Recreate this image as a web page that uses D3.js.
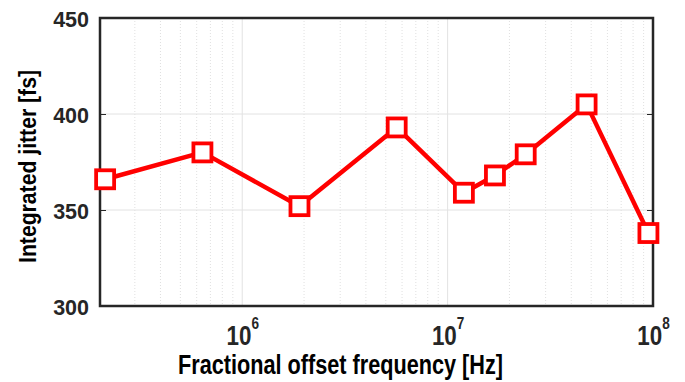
<!DOCTYPE html>
<html><head><meta charset="utf-8">
<script src="https://cdn.jsdelivr.net/npm/d3@7"></script>
<style>body{margin:0;background:#fff;}svg{display:block;font-family:"Liberation Sans",Arial,sans-serif;}</style>
</head><body>
<svg id="c" width="685" height="382"></svg>
<script>
const freqs = [2.15e5, 6.4e5, 1.9e6, 5.65e6, 1.2e7, 1.7e7, 2.4e7, 4.75e7, 9.5e7];
const jitter = [366, 380, 352, 393, 359, 368, 379, 405, 338];
const yTicks = [300, 350, 400, 450];
const xTicks = [1e6, 1e7, 1e8];
const xLabel = "Fractional offset frequency [Hz]";
const yLabel = "Integrated jitter [fs]";

const svg = d3.select("#c");
const L = 100, R = 653, T = 18, B = 306;
const x = d3.scaleLog().domain([2.03e5, 1e8]).range([L, R]);
const y = d3.scaleLinear().domain([300, 450]).range([B, T]);

// minor grid
const minor = [];
for (let e = 5; e < 8; e++) for (let m = 2; m <= 9; m++) { const v = m * Math.pow(10, e); if (v > 2.03e5 && v < 1e8) minor.push(v); }
svg.append("g").selectAll("line").data(minor).join("line")
  .attr("x1", d => x(d)).attr("x2", d => x(d)).attr("y1", T).attr("y2", B)
  .attr("stroke", "#d8d8d8").attr("stroke-width", 0.8).attr("stroke-dasharray", "1,2");
// major grid
svg.append("g").selectAll("line").data(xTicks.slice(0, 2)).join("line")
  .attr("x1", d => x(d)).attr("x2", d => x(d)).attr("y1", T).attr("y2", B)
  .attr("stroke", "#e2e2e2").attr("stroke-width", 1);
svg.append("g").selectAll("line").data(yTicks.slice(1, 3)).join("line")
  .attr("x1", L).attr("x2", R).attr("y1", d => y(d)).attr("y2", d => y(d))
  .attr("stroke", "#e2e2e2").attr("stroke-width", 1);

// axes with d3
const yAxis = d3.axisLeft(y).tickValues(yTicks).tickSize(6).tickFormat(d3.format("d"));
const gy = svg.append("g").attr("transform", `translate(${L},0)`).call(yAxis);
gy.select(".domain").remove();
gy.selectAll(".tick line").attr("x2", 6).attr("stroke", "#262626").attr("stroke-width", 1);
gy.selectAll(".tick text").attr("x", -11).attr("dy", "0.4em").attr("font-size", 21.5).attr("font-weight", "bold").attr("fill", "#262626");
const gy2 = svg.append("g").attr("transform", `translate(${R},0)`).call(d3.axisRight(y).tickValues(yTicks).tickSize(0).tickFormat(""));
gy2.select(".domain").remove();
gy2.selectAll(".tick line").attr("x2", -6).attr("stroke", "#262626");

const xAxis = d3.axisBottom(x).tickValues(xTicks).tickSize(0).tickFormat("");
const gx = svg.append("g").attr("transform", `translate(0,${B})`).call(xAxis);
gx.select(".domain").remove();
gx.selectAll(".tick").each(function(d) {
  const t = d3.select(this).append("text").attr("y", 39).attr("fill", "#262626")
    .attr("font-weight", "bold").attr("text-anchor", "middle")
    .attr("transform", "scale(0.8,1)");
  t.append("tspan").attr("font-size", 28).text("10");
  t.append("tspan").attr("font-size", 17).attr("dy", -16).text(Math.round(Math.log10(d)));
});

// box
svg.append("rect").attr("x", L).attr("y", T).attr("width", R - L).attr("height", B - T)
  .attr("fill", "none").attr("stroke", "#262626").attr("stroke-width", 2.5);

// data
const pts = freqs.map((f, i) => [f, jitter[i]]);
svg.append("path").datum(pts)
  .attr("d", d3.line().x(d => x(d[0])).y(d => y(d[1])))
  .attr("fill", "none").attr("stroke", "#ff0000").attr("stroke-width", 4.5).attr("stroke-linejoin", "round");
const s = 18;
svg.append("g").selectAll("rect").data(pts).join("rect")
  .attr("x", d => x(d[0]) - s / 2).attr("y", d => y(d[1]) - s / 2)
  .attr("width", s).attr("height", s)
  .attr("fill", "#fff").attr("stroke", "#ff0000").attr("stroke-width", 3.8);

// labels
svg.append("text").attr("x", 340.5).attr("y", 374).attr("text-anchor", "middle")
  .attr("font-size", 27).attr("font-weight", "bold").attr("fill", "#000")
  .attr("textLength", 325).attr("lengthAdjust", "spacingAndGlyphs").text(xLabel);
svg.append("text").attr("transform", `translate(36,166.5) rotate(-90)`).attr("text-anchor", "middle")
  .attr("font-size", 24).attr("font-weight", "bold").attr("fill", "#000")
  .attr("textLength", 193).attr("lengthAdjust", "spacingAndGlyphs").text(yLabel);
</script>
</body></html>
